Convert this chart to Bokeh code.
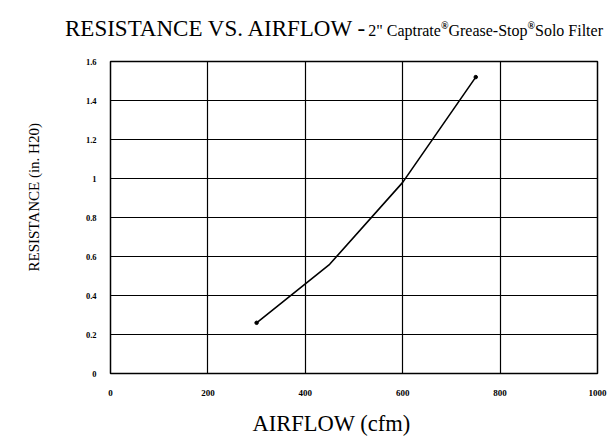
from bokeh.plotting import figure
from bokeh.models import FixedTicker, Title, Div
from bokeh.layouts import column
from bokeh.embed import file_html
from bokeh.resources import INLINE

# ---- data ----
airflow = [300, 450, 600, 750]
resistance = [0.26, 0.56, 0.98, 1.52]

x_ticks = [0, 200, 400, 600, 800, 1000]
x_tick_labels = ["0", "200", "400", "600", "800", "1000"]
y_ticks = [0, 0.2, 0.4, 0.6, 0.8, 1.0, 1.2, 1.4, 1.6]
y_tick_labels = ["0", "0.2", "0.4", "0.6", "0.8", "1", "1.2", "1.4", "1.6"]

title_main = "RESISTANCE VS. AIRFLOW -"
title_sub = ["2&quot; Captrate", "Grease-Stop", "Solo Filter"]
reg_mark = "\u00ae"
x_title = "AIRFLOW (cfm)"
y_title = "RESISTANCE (in. H20)"

SERIF = "Liberation Serif"
FF = f"font-family:'{SERIF}',serif;"

# ---- title row (two font sizes on one baseline) ----
sup = (f'<sup style="{FF}font-size:10px;font-weight:bold;line-height:0;'
       f'vertical-align:7px">{reg_mark}</sup>')
title_html = (
    f'<div style="position:relative;width:615px;height:40px;overflow:hidden;'
    f'white-space:nowrap;{FF}color:#000;">'
    f'<div style="position:absolute;left:65px;top:17px;line-height:23px;{FF}">'
    f'<span style="{FF}font-size:23px">{title_main}</span> '
    f'<span style="{FF}font-size:16px">{title_sub[0]}{sup}{title_sub[1]}{sup}{title_sub[2]}</span>'
    "</div></div>"
)
head = Div(text=title_html, width=615, height=40, margin=(0, 0, 0, 0),
           styles={"font-family": f"'{SERIF}', serif"})

# ---- chart ----
p = figure(
    frame_width=487, frame_height=312,
    min_border_left=110, min_border_right=10,
    min_border_top=21, min_border_bottom=58,
    x_range=(0, 1000), y_range=(0, 1.6),
    output_backend="svg", toolbar_location=None,
    background_fill_color="white", border_fill_color="white",
    margin=(0, 0, 0, 0),
)

p.outline_line_color = "black"
p.outline_line_width = 1.5

p.xgrid.ticker = FixedTicker(ticks=x_ticks)
p.ygrid.ticker = FixedTicker(ticks=y_ticks)
for g in (p.xgrid, p.ygrid):
    g.grid_line_color = "black"
    g.grid_line_width = 1.2
    g.grid_line_alpha = 1.0

p.xaxis.ticker = FixedTicker(ticks=x_ticks)
p.yaxis.ticker = FixedTicker(ticks=y_ticks)
p.xaxis.major_label_overrides = {t: l for t, l in zip(x_ticks, x_tick_labels)}
p.yaxis.major_label_overrides = {t: l for t, l in zip(y_ticks, y_tick_labels)}
for ax in (p.xaxis, p.yaxis):
    ax.axis_line_color = None
    ax.major_tick_line_color = None
    ax.minor_tick_line_color = None
    ax.major_label_text_font = SERIF
    ax.major_label_text_font_style = "bold"
    ax.major_label_text_color = "black"
    # blank label used only as a spacer before the axis titles
    ax.axis_label = " "
    ax.axis_label_text_font_size = "1px"
p.xaxis.major_label_text_font_size = "9px"
p.yaxis.major_label_text_font_size = "8.5px"
p.xaxis.major_label_standoff = 10
p.yaxis.major_label_standoff = 8
p.xaxis.axis_label_standoff = 5
p.yaxis.axis_label_standoff = 36

# axis titles, offset along the axis as in the reference
p.add_layout(Title(text=x_title, align="left", offset=142, standoff=2,
                   vertical_align="bottom", text_font=SERIF,
                   text_font_size="22.5px", text_font_style="normal",
                   text_color="black"), "below")
p.add_layout(Title(text=y_title, align="left", offset=102, standoff=2,
                   vertical_align="bottom", text_font=SERIF,
                   text_font_size="15px", text_font_style="normal",
                   text_color="black"), "left")

# data line
p.line(airflow, resistance, line_color="black", line_width=1.6)
p.scatter([airflow[0], airflow[-1]], [resistance[0], resistance[-1]],
          size=3.5, color="black")

layout = column(head, p, spacing=0)
open("out.html", "w").write(file_html(layout, INLINE))
